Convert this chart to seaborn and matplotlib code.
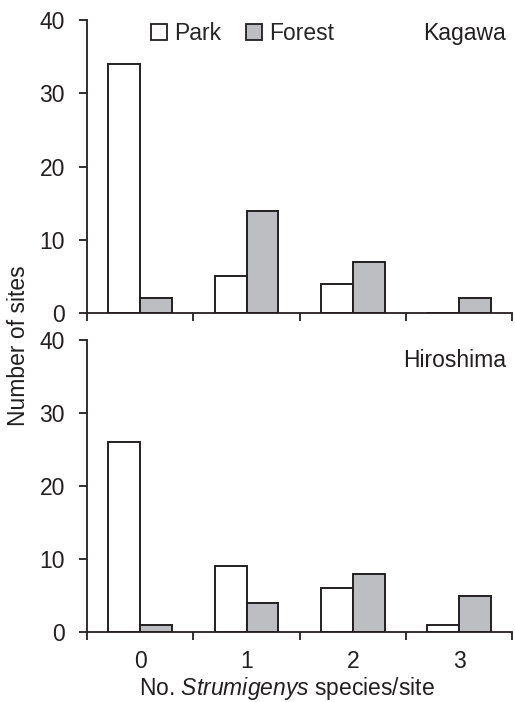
import matplotlib
matplotlib.use("Agg")
import matplotlib.pyplot as plt
import seaborn as sns
import pandas as pd
from matplotlib.patches import Patch

categories = [0, 1, 2, 3]
kagawa_park = [34, 5, 4, 0]
kagawa_forest = [2, 14, 7, 2]
hiroshima_park = [26, 9, 6, 1]
hiroshima_forest = [1, 4, 8, 5]
yticks = [0, 10, 20, 30, 40]

sns.set_theme(style="ticks")
plt.rcParams['font.family'] = ['Liberation Sans', 'DejaVu Sans']
plt.rcParams['mathtext.fontset'] = 'custom'
plt.rcParams['mathtext.it'] = 'Liberation Sans:italic'
plt.rcParams['mathtext.rm'] = 'Liberation Sans'

colors = {"Park": "#ffffff", "Forest": "#bdbec1"}
edge = "#231f20"
FS = 16.5

fig = plt.figure(figsize=(5.15, 7.02), dpi=100)
ax1 = fig.add_axes([0.169, 0.554, 0.826, 0.4175])
ax2 = fig.add_axes([0.169, 0.0997, 0.826, 0.416])

def make_df(park, forest):
    rows = []
    for c, p, f in zip(categories, park, forest):
        rows.append({"cat": str(c), "hab": "Park", "n": p})
        rows.append({"cat": str(c), "hab": "Forest", "n": f})
    return pd.DataFrame(rows)

for ax, park, forest, name, ty in [(ax1, kagawa_park, kagawa_forest, "Kagawa", 0.955),
                                   (ax2, hiroshima_park, hiroshima_forest, "Hiroshima", 0.93)]:
    df = make_df(park, forest)
    sns.barplot(data=df, x="cat", y="n", hue="hab", palette=colors,
                hue_order=["Park", "Forest"], width=0.6, ax=ax,
                edgecolor=edge, linewidth=1.4, legend=False, saturation=1)
    ax.set_ylim(0, 40)
    ax.set_xlim(-0.5, 3.5)
    ax.set_yticks(yticks)
    ax.set_yticklabels([str(t) for t in yticks], fontsize=FS, color=edge)
    ax.set_xticks([-0.5, 0.5, 1.5, 2.5, 3.5], minor=True)
    ax.set_xticks(categories)
    ax.tick_params(axis='x', which='major', length=0, pad=13, labelsize=FS)
    ax.tick_params(axis='x', which='minor', length=6, width=1.3, color=edge, direction='out')
    ax.tick_params(axis='y', length=6, width=1.3, color=edge, direction='out', pad=10)
    for s in ["top", "right"]:
        ax.spines[s].set_visible(False)
    for s in ["left", "bottom"]:
        ax.spines[s].set_color(edge)
        ax.spines[s].set_linewidth(1.3)
    ax.set_xlabel("")
    ax.set_ylabel("")
    ax.text(0.985, ty, name, transform=ax.transAxes, ha="right", va="center",
            fontsize=FS, color=edge)

ax1.set_xticklabels([])
ax2.set_xticklabels([str(c) for c in categories], color=edge)

fig.text(0.035, 0.507, "Number of sites", rotation=90, ha="center", va="center",
         fontsize=FS, color=edge)
fig.text(0.557, 0.019, r"No. $\mathit{Strumigenys}$ species/site", ha="center", va="center",
         fontsize=FS, color=edge)

handles = [Patch(facecolor=colors["Park"], edgecolor=edge, linewidth=1.3, label="Park"),
           Patch(facecolor=colors["Forest"], edgecolor=edge, linewidth=1.3, label="Forest")]
fig.legend(handles=handles, loc="center left", bbox_to_anchor=(0.293, 0.952), ncol=2,
           frameon=False, fontsize=FS, handlelength=0.7, handleheight=0.7,
           handletextpad=0.3, columnspacing=1.1, borderaxespad=0, borderpad=0)

fig.savefig("out.png", dpi=100)
